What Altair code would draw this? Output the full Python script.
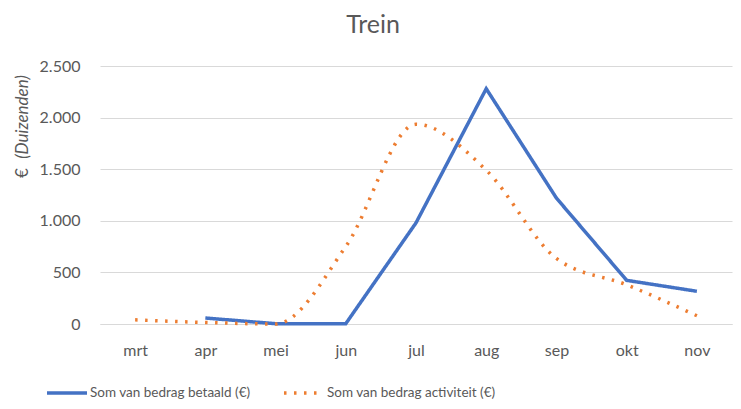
import altair as alt
import pandas as pd

months = ["mrt", "apr", "mei", "jun", "jul", "aug", "sep", "okt", "nov"]
betaald = [None, 58, 3, 3, 980, 2280, 1220, 423, 317]
activiteit = [40, 15, 0, 750, 1935, 1490, 635, 380, 80]
series = ["Som van bedrag betaald (€)", "Som van bedrag activiteit (€)"]
colors = ["#4472C4", "#ED7D31"]
dashes = [[1, 0], [2.5, 7.5]]
y_ticks = [0, 500, 1000, 1500, 2000, 2500]

rows = []
for m, b, a in zip(months, betaald, activiteit):
    if b is not None:
        rows.append({"maand": m, "serie": series[0], "waarde": b})
    rows.append({"maand": m, "serie": series[1], "waarde": a})
df = pd.DataFrame(rows)

FONT = "Lato"
GRAY = "#595959"
GRID = "#d9d9d9"

leg = alt.Legend(orient="none", legendX=-55, legendY=305, direction="horizontal", title=None)

x = alt.X("maand:O", sort=months, scale=alt.Scale(domain=months),
          axis=alt.Axis(title=None, labelAngle=0, ticks=False, domainColor=GRID,
                        labelPadding=18, labelFontSize=16, labelColor=GRAY, labelFont=FONT))
y = alt.Y("waarde:Q", scale=alt.Scale(domain=[0, 2500], nice=False),
          axis=alt.Axis(title=None, values=y_ticks,
                        labelExpr="replace(format(datum.value, ','), ',', '.')",
                        domain=False, ticks=False, gridColor=GRID, labelPadding=20,
                        labelFontSize=16, labelColor=GRAY, labelFont=FONT))
color = alt.Color("serie:N", scale=alt.Scale(domain=series, range=colors), legend=leg)
dash = alt.StrokeDash("serie:N", scale=alt.Scale(domain=series, range=dashes), legend=leg)

base = alt.Chart(df)
blue = base.transform_filter(alt.datum.serie == series[0]).mark_line(
    strokeWidth=3.5, interpolate="linear").encode(x=x, y=y, color=color, strokeDash=dash)
orange = base.transform_filter(alt.datum.serie == series[1]).mark_line(
    strokeWidth=3.5, interpolate="monotone").encode(x=x, y=y, color=color, strokeDash=dash)

one = pd.DataFrame({"a": [1]})
t1 = alt.Chart(one).mark_text(angle=270, font=FONT, fontSize=17, color=GRAY,
                              align="left", baseline="middle").encode(
    x=alt.value(-77), y=alt.value(112), text=alt.value("€ "))
t2 = alt.Chart(one).mark_text(angle=270, font=FONT, fontSize=17, color=GRAY, fontStyle="italic",
                              align="right", baseline="middle").encode(
    x=alt.value(-77), y=alt.value(9), text=alt.value("(Duizenden)"))
title = alt.Chart(one).mark_text(font=FONT, fontSize=25, color=GRAY, align="center",
                                 baseline="alphabetic").encode(
    x=alt.value(273), y=alt.value(-33), text=alt.value("Trein"))

chart = alt.layer(blue, orange, t1, t2, title).properties(
    width=632, height=258,
    background="white",
    autosize=alt.AutoSizeParams(type="none"),
    padding={"left": 92, "top": 58, "right": 1, "bottom": 77},
).configure_view(stroke=None).configure_legend(
    symbolType="stroke", symbolSize=1600, symbolStrokeWidth=3.5, labelFontSize=13.5,
    labelFont=FONT, labelColor=GRAY, columnPadding=26, labelOffset=1, padding=0,
    labelLimit=400,
)

chart.save("out.html", embed_options={"renderer": "svg", "actions": False})
